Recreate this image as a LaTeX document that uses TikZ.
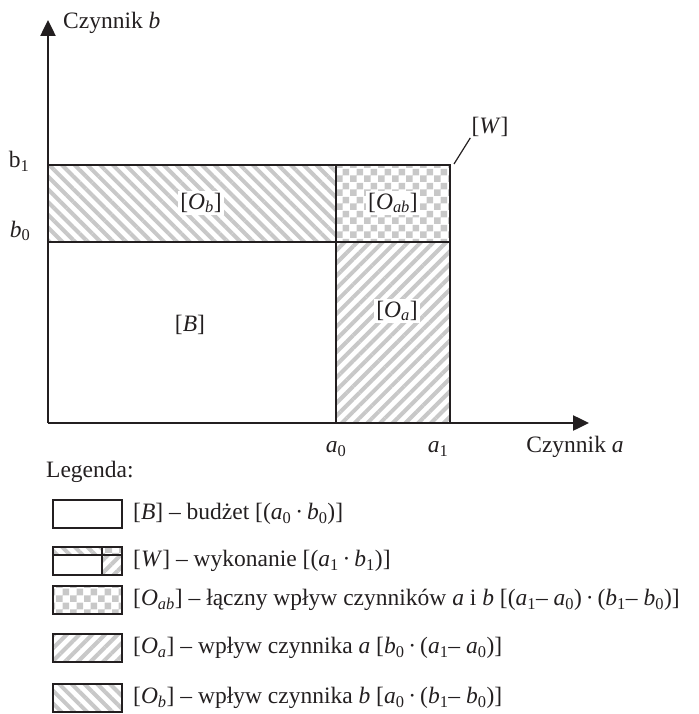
\documentclass[tikz,border=0pt]{standalone}
\usepackage{fontspec}
\setmainfont{Liberation Serif}
\usetikzlibrary{arrows.meta,patterns.meta}
\definecolor{patgray}{RGB}{200,200,200}
\definecolor{ink}{RGB}{35,31,32}
\pgfdeclarepatternformonly{chk}{\pgfpointorigin}{\pgfqpoint{14pt}{14pt}}{\pgfqpoint{14pt}{14pt}}{%
  \pgfpathrectangle{\pgfpointorigin}{\pgfqpoint{7pt}{7pt}}%
  \pgfpathrectangle{\pgfqpoint{7pt}{7pt}}{\pgfqpoint{7pt}{7pt}}%
  \pgfusepath{fill}}
\newcommand\myA[1]{\textit{a}\textsubscript{#1}}
\newcommand\myB[1]{\textit{b}\textsubscript{#1}}
\newcommand\myO[1]{\textit{O}\textsubscript{\textit{#1}}}
\tikzset{
  lab/.style={font=\fontsize{23.5}{28}\selectfont, inner sep=1pt, text=ink},
  patlab/.style={lab, fill=white, inner sep=2pt},
  edgeline/.style={line width=2.3pt, draw=ink},
  axisline/.style={line width=2.5pt, draw=ink, -{Triangle[length=16pt,width=15pt]}},
  pa/.style={pattern={Lines[angle=45,distance=9pt,line width=4pt]}, pattern color=patgray},
  pb/.style={pattern={Lines[angle=-45,distance=9pt,line width=4pt]}, pattern color=patgray},
  pab/.style={pattern=chk, pattern color=patgray},
  legbox/.style={line width=2.8pt, draw=ink},
  leglab/.style={lab, anchor=west},
  leader/.style={line width=1.2pt, draw=ink}
}
\begin{document}
\begin{tikzpicture}[x=1pt,y=-1pt]
\useasboundingbox (0,0) rectangle (698,714);
% key coordinates
\coordinate (O) at (48,423);
\coordinate (Ytop) at (48,20);
\coordinate (Xend) at (589,423);
% pattern fills
\fill[pb]  (48,165) rectangle (336,242);
\fill[pab] (336,165) rectangle (450,242);
\fill[pa]  (336,242) rectangle (450,423);
% rectangle edges
\draw[edgeline] (48,165) -- (450,165) -- (450,423);
\draw[edgeline] (48,242) -- (450,242);
\draw[edgeline] (336,165) -- (336,423);
% axes
\draw[axisline] (O) -- (Ytop);
\draw[axisline] (O) -- (Xend);
% labels
\node[lab, anchor=west] (cb) at (62,23) {Czynnik \textit{b}};
\node[lab] (b1) at (19,161) {b\textsubscript{1}};
\node[lab] (b0) at (20,231) {\myB{0}};
\node[patlab] (Ob) at (201,203) {[\myO{b}]};
\node[patlab] (Oab) at (393,203) {[\myO{ab}]};
\node[patlab] (Oa) at (397,311) {[\myO{a}]};
\node[lab] (B) at (190,325) {[\textit{B}]};
\node[lab] (W) at (490,127) {[\textit{W}]};
\coordinate (Wc) at (454,164);
\draw[leader] (Wc) -- (W.south west);
\node[lab] (a0) at (336,449) {\myA{0}};
\node[lab] (a1) at (438,449) {\myA{1}};
\node[lab] (ca) at (575,447) {Czynnik \textit{a}};
% legend
\node[leglab] (leg) at (45,472) {Legenda:};
% row 1
\draw[legbox] (53,500) rectangle (122,528);
\node[leglab] (l1) at (132,514) {[\textit{B}] – budżet [(\myA{0}\,·\,\myB{0})]};
% row 2
\fill[pb]  (53,547) rectangle (102,555);
\fill[pab] (102,547) rectangle (122,555);
\fill[pa]  (102,555) rectangle (122,575);
\draw[legbox] (53,547) rectangle (122,575);
\draw[line width=2.3pt, draw=ink] (53,555) -- (122,555);
\draw[line width=2.3pt, draw=ink] (102,547) -- (102,575);
\node[leglab] (l2) at (132,561) {[\textit{W}] – wykonanie [(\myA{1}\,·\,\myB{1})]};
% row 3
\fill[pab] (53,586) rectangle (122,614);
\draw[legbox] (53,586) rectangle (122,614);
\node[leglab] (l3) at (132,600) {[\myO{ab}] – łączny wpływ czynników \textit{a} i \textit{b} [(\myA{1}– \myA{0})\,·\,(\myB{1}– \myB{0})]};
% row 4
\fill[pa] (53,634) rectangle (122,662);
\draw[legbox] (53,634) rectangle (122,662);
\node[leglab] (l4) at (132,648) {[\myO{a}] – wpływ czynnika \textit{a} [\myB{0}\,·\,(\myA{1}– \myA{0})]};
% row 5
\fill[pb] (53,684) rectangle (122,712);
\draw[legbox] (53,684) rectangle (122,712);
\node[leglab] (l5) at (132,698) {[\myO{b}] – wpływ czynnika \textit{b} [\myA{0}\,·\,(\myB{1}– \myB{0})]};
\end{tikzpicture}
\end{document}
